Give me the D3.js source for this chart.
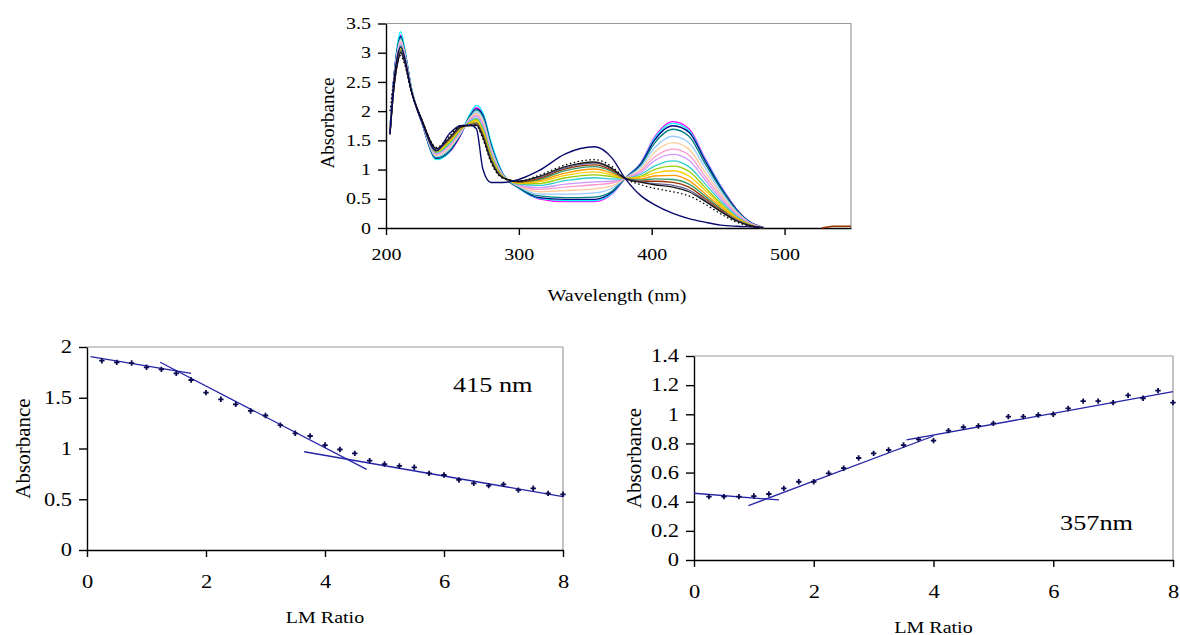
<!DOCTYPE html>
<html>
<head>
<meta charset="utf-8">
<script src="https://cdn.jsdelivr.net/npm/d3@7"></script>
<style>
  body { margin: 0; background: #fff; }
  svg, svg text { font-family: "Liberation Serif", "Times New Roman", serif; fill: #000; }
</style>
</head>
<body>
<script>

/* ---- data: titration spectra (top panel) ---- */

// wavelength grid (nm) the spectra were read at
const wavelengths = [203,206,209,211,214,219,227,238,248,256,263,268,273,279,288,300,315,335,357,370,380,392,402,416,428,440,452,464,474,484];

// absorbance of each spectrum, first one = free compound, last ones = end of titration
const spectra = [
  [1.70,2.60,3.15,3.30,3.05,2.40,1.80,1.18,1.30,1.58,1.92,2.06,1.95,1.45,0.92,0.68,0.50,0.45,0.45,0.58,0.85,1.12,1.55,1.82,1.70,1.20,0.72,0.32,0.10,0.01],
  [1.70,2.59,3.20,3.36,3.08,2.42,1.80,1.17,1.31,1.60,1.94,2.10,1.97,1.48,0.93,0.68,0.51,0.47,0.47,0.59,0.85,1.11,1.53,1.79,1.67,1.18,0.71,0.31,0.10,0.01],
  [1.69,2.59,3.13,3.28,3.04,2.40,1.80,1.19,1.32,1.59,1.91,2.04,1.93,1.43,0.92,0.69,0.52,0.49,0.49,0.61,0.85,1.10,1.50,1.75,1.64,1.16,0.69,0.31,0.10,0.01],
  [1.69,2.58,3.11,3.26,3.03,2.39,1.81,1.20,1.33,1.60,1.90,2.02,1.90,1.41,0.91,0.69,0.55,0.52,0.53,0.63,0.85,1.08,1.45,1.69,1.57,1.11,0.67,0.30,0.09,0.01],
  [1.68,2.56,3.08,3.23,3.01,2.39,1.81,1.22,1.36,1.61,1.88,1.99,1.86,1.38,0.91,0.71,0.58,0.58,0.60,0.68,0.85,1.05,1.37,1.57,1.46,1.04,0.62,0.28,0.09,0.01],
  [1.67,2.54,3.05,3.20,2.99,2.38,1.82,1.24,1.38,1.63,1.87,1.96,1.82,1.35,0.90,0.72,0.62,0.64,0.67,0.72,0.85,1.01,1.29,1.46,1.35,0.96,0.58,0.26,0.08,0.01],
  [1.66,2.52,3.02,3.17,2.97,2.38,1.82,1.26,1.41,1.64,1.85,1.93,1.78,1.32,0.90,0.73,0.66,0.70,0.74,0.77,0.85,0.98,1.21,1.35,1.25,0.89,0.54,0.24,0.08,0.01],
  [1.65,2.50,3.00,3.15,2.95,2.38,1.83,1.27,1.43,1.66,1.84,1.91,1.75,1.30,0.89,0.74,0.69,0.75,0.79,0.80,0.85,0.95,1.15,1.26,1.16,0.83,0.50,0.22,0.07,0.01],
  [1.64,2.48,2.97,3.12,2.93,2.37,1.83,1.29,1.45,1.67,1.82,1.88,1.71,1.27,0.88,0.75,0.73,0.81,0.86,0.84,0.85,0.92,1.06,1.15,1.05,0.76,0.46,0.20,0.06,0.00],
  [1.63,2.46,2.95,3.10,2.91,2.37,1.83,1.30,1.47,1.68,1.80,1.86,1.68,1.25,0.88,0.76,0.76,0.86,0.91,0.88,0.85,0.89,1.00,1.06,0.97,0.70,0.42,0.18,0.06,0.00],
  [1.63,2.45,2.93,3.08,2.90,2.36,1.84,1.32,1.49,1.69,1.79,1.84,1.65,1.23,0.88,0.77,0.79,0.90,0.96,0.91,0.85,0.87,0.94,0.98,0.89,0.65,0.39,0.17,0.06,0.00],
  [1.62,2.44,2.90,3.05,2.89,2.36,1.84,1.33,1.51,1.70,1.78,1.81,1.62,1.20,0.87,0.78,0.81,0.94,1.01,0.94,0.85,0.84,0.89,0.90,0.81,0.59,0.36,0.16,0.05,0.00],
  [1.61,2.42,2.89,3.04,2.87,2.36,1.84,1.34,1.52,1.71,1.77,1.80,1.60,1.19,0.87,0.79,0.83,0.98,1.05,0.97,0.85,0.82,0.84,0.83,0.75,0.55,0.33,0.14,0.05,0.00],
  [1.61,2.41,2.87,3.02,2.86,2.35,1.85,1.35,1.53,1.72,1.76,1.78,1.58,1.17,0.86,0.79,0.85,1.01,1.08,0.99,0.85,0.80,0.80,0.78,0.70,0.51,0.31,0.13,0.04,0.00],
  [1.60,2.41,2.86,3.01,2.86,2.35,1.85,1.35,1.54,1.73,1.76,1.77,1.56,1.16,0.86,0.80,0.87,1.03,1.11,1.01,0.85,0.79,0.76,0.73,0.65,0.48,0.29,0.13,0.04,0.00],
  [1.60,2.40,2.85,3.00,2.85,2.35,1.85,1.36,1.55,1.73,1.75,1.76,1.55,1.15,0.86,0.80,0.88,1.05,1.13,1.02,0.85,0.78,0.74,0.70,0.62,0.46,0.28,0.12,0.04,0.00]
];
const spectraColors = ["#ff00ff","#00ffff","#000080","#008080","#99ccff","#ffcc99","#ff99cc","#cc99ff",
                       "#33cccc","#99cc00","#ffcc00","#ff9900","#339966","#993300","#666699","#1a1a1a"];

// the odd spectrum with the 357 nm band (solid navy) and the dotted one
const navySpectrum   = [1.62,2.50,2.98,3.10,2.92,2.35,1.82,1.32,1.62,1.75,1.76,1.70,1.00,0.78,0.78,0.83,0.98,1.27,1.39,1.20,0.85,0.55,0.40,0.25,0.16,0.10,0.05,0.03,0.02,0.01];
const dottedSpectrum = [2.00,2.55,2.88,2.95,2.80,2.33,1.85,1.38,1.58,1.75,1.76,1.75,1.52,1.12,0.85,0.80,0.90,1.08,1.17,1.05,0.85,0.74,0.68,0.62,0.55,0.41,0.24,0.10,0.03,0.00];

// little baseline bit at the far right
const tailWl  = [528, 536, 550];
const tailAbs = [0.00, 0.03, 0.03];

const wlTicks  = [200, 300, 400, 500];
const absTicks = [0, 0.5, 1, 1.5, 2, 2.5, 3, 3.5];

/* ---- data: 415 nm titration curve (bottom left) ---- */
const ratio415 = [0.25,0.5,0.75,1.0,1.25,1.5,1.75,2.0,2.25,2.5,2.75,3.0,3.25,3.5,3.75,4.0,4.25,4.5,4.75,5.0,5.25,5.5,5.75,6.0,6.25,6.5,6.75,7.0,7.25,7.5,7.75,8.0];
const abs415   = [1.865,1.849,1.842,1.80,1.78,1.74,1.675,1.55,1.485,1.435,1.37,1.325,1.23,1.15,1.123,1.034,0.99,0.952,0.88,0.847,0.828,0.815,0.755,0.739,0.69,0.657,0.634,0.647,0.59,0.608,0.558,0.549];
// hand drawn straight-line fits: [x0, y0, x1, y1]
const fits415  = [[0.06,1.905,1.75,1.74],[1.23,1.85,4.7,0.795],[3.65,0.968,8.0,0.525]];
const ticks415 = [0, 0.5, 1, 1.5, 2];

/* ---- data: 357 nm titration curve (bottom right) ---- */
const ratio357 = [0.25,0.5,0.75,1.0,1.25,1.5,1.75,2.0,2.25,2.5,2.75,3.0,3.25,3.5,3.75,4.0,4.25,4.5,4.75,5.0,5.25,5.5,5.75,6.0,6.25,6.5,6.75,7.0,7.25,7.5,7.75,8.0];
const abs357   = [0.435,0.435,0.435,0.439,0.453,0.492,0.537,0.537,0.595,0.63,0.70,0.732,0.755,0.789,0.828,0.819,0.888,0.911,0.92,0.938,0.984,0.984,0.995,1.0,1.04,1.09,1.09,1.08,1.13,1.11,1.162,1.08];
const fits357  = [[0,0.458,1.42,0.412],[0.91,0.373,4.0,0.851],[3.55,0.824,8.0,1.155]];
const ticks357 = [0, 0.2, 0.4, 0.6, 0.8, 1, 1.2, 1.4];

const ratioTicks = [0, 2, 4, 6, 8];

const serif = "Liberation Serif, Times New Roman, serif";

const svg = d3.select("body")
    .append("svg")
    .attr("width", 1180)
    .attr("height", 635)
    .attr("font-family", serif);

// the original picture is stretched sideways, so widen text the same way
function widen(sel, k) {
  sel.each(function() {
    const w = this.getComputedTextLength();
    d3.select(this).attr("textLength", w * k).attr("lengthAdjust", "spacingAndGlyphs");
  });
}

// axes + grey frame for one panel
function frame(box, xs, ys, xt, yt, size, xPad) {
  svg.append("line") // grey top edge
      .attr("x1", box.left).attr("x2", box.right)
      .attr("y1", box.top).attr("y2", box.top)
      .attr("stroke", "#9a9a9a").attr("stroke-width", 1.2);
  svg.append("line") // grey right edge
      .attr("x1", box.right).attr("x2", box.right)
      .attr("y1", box.top).attr("y2", box.bottom)
      .attr("stroke", "#9a9a9a").attr("stroke-width", 1.2);

  const gy = svg.append("g")
      .attr("transform", `translate(${box.left},0)`)
      .call(d3.axisLeft(ys).tickValues(yt).tickFormat(d3.format("")).tickSize(8).tickSizeOuter(0).tickPadding(7));
  const gx = svg.append("g")
      .attr("transform", `translate(0,${box.bottom})`)
      .call(d3.axisBottom(xs).tickValues(xt).tickFormat(d3.format("")).tickSize(7).tickSizeOuter(0).tickPadding(xPad));

  [gx, gy].forEach(g => {
    g.attr("font-family", serif).attr("font-size", size);
    g.selectAll("path, line").attr("stroke", "#000").attr("stroke-width", 1.4);
    widen(g.selectAll("text"), 1.25);
  });
}

/* ---------- top panel: spectra ---------- */
const topBox = {left: 386, right: 851, top: 23.5, bottom: 228};
const xW = d3.scaleLinear().domain([200, 550]).range([topBox.left, topBox.right]);
const yW = d3.scaleLinear().domain([0, 3.5]).range([topBox.bottom, topBox.top]);

frame(topBox, xW, yW, wlTicks, absTicks, 16, 14);

const specLine = d3.line()
    .x((d, i) => xW(wavelengths[i]))
    .y(d => yW(d))
    .curve(d3.curveMonotoneX);

svg.append("g")
  .selectAll("path")
  .data(spectra)
  .enter()
  .append("path")
    .attr("d", specLine)
    .attr("fill", "none")
    .attr("stroke", (d, i) => spectraColors[i])
    .attr("stroke-width", 1.3);

svg.append("path") // navy spectrum
    .attr("d", specLine(navySpectrum))
    .attr("fill", "none")
    .attr("stroke", "#0a0a6e")
    .attr("stroke-width", 1.4);

svg.append("path") // dotted spectrum
    .attr("d", specLine(dottedSpectrum))
    .attr("fill", "none")
    .attr("stroke", "#000")
    .attr("stroke-width", 1.3)
    .attr("stroke-dasharray", "1.5,2.5");

svg.append("path")
    .attr("d", d3.line().x((d, i) => xW(tailWl[i])).y(d => yW(d))(tailAbs))
    .attr("fill", "none")
    .attr("stroke", "#993300")
    .attr("stroke-width", 1.6);

svg.append("text")
    .attr("x", 617).attr("y", 301)
    .attr("text-anchor", "middle")
    .attr("font-family", serif)
    .attr("font-size", 16)
    .text("Wavelength (nm)")
    .call(widen, 1.25);

svg.append("text")
    .attr("transform", "translate(334,123) rotate(-90)")
    .attr("text-anchor", "middle")
    .attr("font-family", serif)
    .attr("font-size", 19)
    .text("Absorbance");

/* ---------- bottom panels ---------- */
function titration(box, yMax, yTicks, xs, ys, fits, label, lx, ly, ax) {
  const xScale = d3.scaleLinear().domain([0, 8]).range([box.left, box.right]);
  const yScale = d3.scaleLinear().domain([0, yMax]).range([box.bottom, box.top]);

  frame(box, xScale, yScale, ratioTicks, yTicks, 18, 18);

  // fitted straight lines
  svg.append("g")
    .selectAll("line")
    .data(fits)
    .enter()
    .append("line")
      .attr("x1", d => xScale(d[0])).attr("y1", d => yScale(d[1]))
      .attr("x2", d => xScale(d[2])).attr("y2", d => yScale(d[3]))
      .attr("stroke", "#2424a8")
      .attr("stroke-width", 1.3);

  // measured points
  svg.append("g")
    .selectAll("path")
    .data(xs)
    .enter()
    .append("path")
      .attr("transform", (d, i) => `translate(${xScale(d)},${yScale(ys[i])})`)
      .attr("d", d3.symbol().type(d3.symbolCross).size(16))
      .attr("fill", "#0a0a50");

  svg.append("text")
      .attr("x", lx).attr("y", ly)
      .attr("font-family", serif)
      .attr("font-size", 21)
      .text(label)
      .call(widen, 1.25);

  svg.append("text")
      .attr("x", (box.left + box.right) / 2).attr("y", box.bottom + 73)
      .attr("text-anchor", "middle")
      .attr("font-family", serif)
      .attr("font-size", 16)
      .text("LM Ratio")
      .call(widen, 1.25);

  svg.append("text")
      .attr("transform", `translate(${ax},${(box.top + box.bottom) / 2}) rotate(-90)`)
      .attr("text-anchor", "middle")
      .attr("font-family", serif)
      .attr("font-size", 21)
      .text("Absorbance");
}

titration({left: 87, right: 563, top: 347, bottom: 550}, 2, ticks415,
          ratio415, abs415, fits415, "415 nm", 453, 392, 30);

titration({left: 694, right: 1173, top: 356, bottom: 560}, 1.4, ticks357,
          ratio357, abs357, fits357, "357nm", 1060, 530, 641);

</script>
</body>
</html>
